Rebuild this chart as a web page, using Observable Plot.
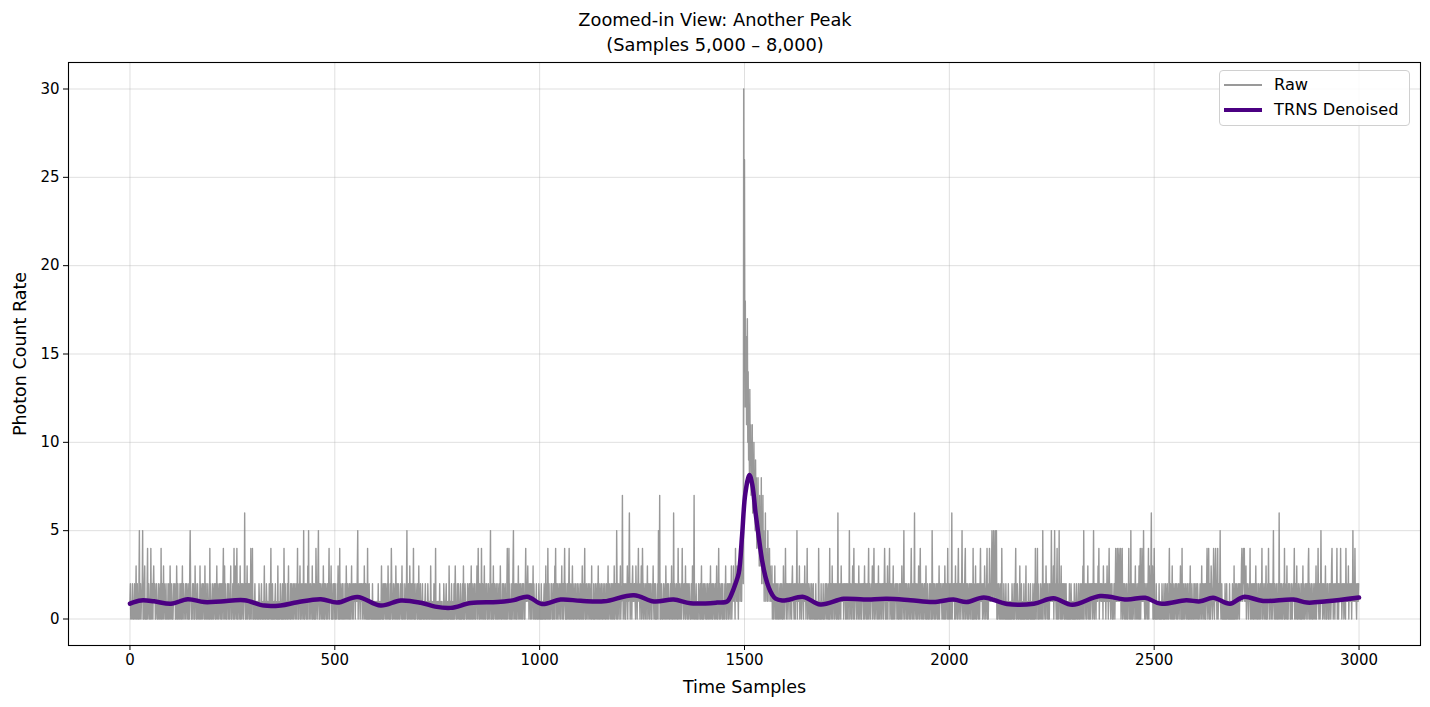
<!DOCTYPE html>
<html>
<head>
<meta charset="utf-8">
<script src="https://cdn.jsdelivr.net/npm/d3@7"></script>
<script src="https://cdn.jsdelivr.net/npm/@observablehq/plot@0.6"></script>
<style>
  html, body { margin: 0; padding: 0; background: #fff; }
  body { font-family: "DejaVu Sans", sans-serif; color: #000; }
  #wrap { position: relative; width: 1430px; height: 707px; overflow: hidden; }
  #title { height: 56px; box-sizing: border-box; padding-top: 7px; text-align: center;
           font-size: 17.8px; line-height: 25px; }
  #legend { position: absolute; left: 1219px; top: 70px; width: 191px; height: 56px;
            box-sizing: border-box; border: 1px solid #d0d0d0; border-radius: 4px;
            background: rgba(255,255,255,0.85); font-size: 16.2px; }
  .row { position: absolute; left: 0; height: 22px; width: 100%; }
  .row .h { position: absolute; left: 4px; width: 38px; top: 50%; }
  .row .t { position: absolute; left: 54px; top: 0; line-height: 22px; white-space: nowrap; }
</style>
</head>
<body>
<div id="wrap">
  <div id="title">Zoomed-in View: Another Peak<br>(Samples 5,000 – 8,000)</div>
  <div id="chart"></div>
  <div id="legend">
    <div class="row" style="top:3px"><div class="h" style="height:1.5px;margin-top:-0.75px;background:rgba(128,128,128,0.8)"></div><div class="t">Raw</div></div>
    <div class="row" style="top:28px"><div class="h" style="height:4.5px;margin-top:-2.25px;background:#4B0082"></div><div class="t">TRNS Denoised</div></div>
  </div>
</div>
<script>
// Raw photon counts, one character per sample (base-36: 0-9 then a=10 ... u=30), samples 0..2999
const rawRows = [
  "1201102101 0210130120 1025012011 2501023010 1024012101 0410210231 1200121010 2101204012 0130211020 1102012031",
  "0120101211 2010310201 1021020130 0211012021 1020103521 0102120103 1201021011 0302101202 1103012010 2101040210",
  "1021012102 0130210121 0210201240 1302101021 2010213010 1220401310 2401021103 0120121021 6102013012 1020140214",
  "0100120101 1010021000 1201010130 0102101010 2101401020 1010120101 0301010210 1020104102 0110201301 1020210120",
  "1210120214 0102130201 2101502012 1020315021 0211030120 2010421013 5102012101 2031020121 0120124021 1302010212",
  "0201102130 1040210120 2011021031 0210120201 1302102112 0212135021 2102212012 1031022010 4010201100 1020101010",
  "0101002010 1001301020 1210210120 3101020142 0102101203 1020120101 2101302011 0210125010 2103102012 0140201021",
  "1020130102 0101201010 1201010210 0100310100 1020104010 0101002010 1000102101 0120101003 1010020101 0201310102",
  "1021010201 0120301021 1010210120 2013010210 1201021301 4102012041 0210130102 1201021012 5010210301 2101201021",
  "0120310102 1021012010 2401140210 1020135021 0210201130 2102101202 1201024121 2312021202 1021302101 0120101021",
  "0100201010 1201030120 4102011021 2010210314 0120121012 1021301201 2410201021 0240102101 3010210120 1021012010",
  "2101302012 4010210121 0210120301 1020102101 2013010210 1201021012 0102101301 2101202102 1030121052 0121021301",
  "1272012102 0121302136 2012102312 1221031202 2412102130 1420121012 0213012102 1201021310 2102010120 5127010210",
  "1021012031 0120210102 1031020610 2101201041 0210120141 2012103012 1020121010 2103102701 0120101021 1020130102",
  "0121012010 2101201302 1020121012 0130102410 2101210201 1021301021 2012102130 1213212042 2131203142 31214342uc",
  "qeicgbdhae 9c8d9b7a8b 697a685968 4758463746 3825372514 2614231523 1423121302 1021301201 2010210120 1201031021",
  "4102120121 2012102312 1021021250 2121302120 1212021312 0214012101 2010210120 1010201010 0410100201 1020101210",
  "2101201040 1210310212 0121020160 2012103121 1201212012 0210215012 1021302401 2120121013 0121020121 2013012102",
  "1024012101 2130124012 1021201301 2012102120 1242012013 0212401210 2013021012 1201201021 0210312025 1021202101",
  "2101202410 1201260121 0210131024 1012021012 2013010210 1021201052 0121021012 1020130121 2101202103 1021204102",
  "1021016021 2120130121 0241021201 2510120134 0121021012 1021201040 2101302012 1021024121 2012103210 1240102142",
  "1213521352 1252150201 2101201041 0102101020 1010201001 0102101020 1240102101 0130102010 1020101301 0102011020",
  "1010201020 4102140201 1021012051 2012103120 1201021215 2121302512 1024012051 2013012012 1020120101 0102010210",
  "0101020101 2010120102 1021013051 2012102130 1201201212 0251021202 1213240212 2121203121 1202131202 4121021201",
  "0121024121 4213412340 1240121021 0120102140 2105102012 1021302101 2013024021 4121521021 0121024031 2136123010",
  "4101020101 1020101002 1010201021 0120102410 2101301021 0121021012 1021301040 2102101210 1201020130 1021010210",
  "2101202101 0121013012 1021020124 1024102013 2101241023 4120240121 2510120101 0102010201 1010200101 0201030102",
  "1021012102 1213421242 4121302121 0121402102 1020120130 1201021012 0214012101 2013010214 1021201201 2510210120",
  "1021061012 0210121040 2101301021 1201021012 1240120130 1021012010 2013021012 1021203410 2101201021 0120130121",
  "4102101521 2012102130 1021201021 2013412012 1021214012 0212141201 2120121041 2121302121 1202152121 4121021212"
];

// TRNS denoised curve, read at these sample positions
const denoisedX = [0,27,59,100,141,181,222,279,328,368,409,466,506,555,612,661,710,745,783,832,
  897,937,970,1006,1051,1100,1157,1230,1279,1327,1368,1433,1458,1470,1478,1486,1494,1502,1512,1519,
  1527,1535,1543,1551,1559,1567,1576,1592,1604,1644,1685,1742,1791,1848,1905,1961,2010,2042,2084,2141,
  2206,2254,2300,2368,2433,2478,2515,2578,2612,2644,2685,2718,2766,2840,2873,2921,3000];
const denoisedY = [0.87,1.05,1.0,0.86,1.12,0.96,0.99,1.06,0.76,0.77,0.95,1.12,0.93,1.25,0.76,1.05,0.92,0.7,0.63,0.9,
  0.96,1.07,1.26,0.85,1.1,1.03,1.0,1.35,0.99,1.1,0.89,0.93,1.0,1.5,2.0,2.6,4.7,7.1,8.15,7.6,
  6.0,4.6,3.3,2.4,1.8,1.4,1.15,1.05,1.07,1.25,0.82,1.14,1.1,1.14,1.06,0.96,1.1,0.96,1.22,0.85,
  0.86,1.17,0.8,1.3,1.1,1.2,0.87,1.06,1.0,1.2,0.86,1.25,1.02,1.1,0.93,1.0,1.22];

const xTicks = [0, 500, 1000, 1500, 2000, 2500, 3000];
const yTicks = [0, 5, 10, 15, 20, 25, 30];

const raw = rawRows.join("").replace(/\s/g, "").split("").map(c => parseInt(c, 36));
const rawData = raw.map((v, i) => ({t: i, v}));
const denData = denoisedX.map((t, i) => ({t, v: denoisedY[i]}));

const chart = Plot.plot({
  width: 1430,
  height: 651,
  marginTop: 6,
  marginBottom: 62,
  marginLeft: 68,
  marginRight: 10,
  style: {fontFamily: "DejaVu Sans", fontSize: "15px", color: "#000", background: "#fff", overflow: "visible"},
  x: {domain: [-150, 3150]},
  y: {domain: [-1.5, 31.5]},
  marks: [
    Plot.gridX(xTicks, {stroke: "#b0b0b0", strokeOpacity: 0.4, strokeWidth: 1}),
    Plot.gridY(yTicks, {stroke: "#b0b0b0", strokeOpacity: 0.4, strokeWidth: 1}),
    Plot.line(rawData, {x: "t", y: "v", stroke: "gray", strokeOpacity: 0.8, strokeWidth: 1.4}),
    Plot.line(denData, {x: "t", y: "v", stroke: "#4B0082", strokeWidth: 4.5, curve: "catmull-rom"}),
    Plot.frame({stroke: "#000", strokeWidth: 1.1}),
    Plot.axisX(xTicks, {tickSize: 5, tickPadding: 4, tickFormat: "d", label: null, stroke: "#000", fontSize: 15}),
    Plot.axisY(yTicks, {tickSize: 5, tickPadding: 4, tickFormat: "d", label: null, stroke: "#000", fontSize: 15}),
    Plot.text(["Time Samples"], {frameAnchor: "bottom", dy: 42, fontSize: 17.5, fill: "#000", textAnchor: "middle", lineAnchor: "middle"}),
    Plot.text(["Photon Count Rate"], {frameAnchor: "left", dx: -48, rotate: -90, fontSize: 17.5, fill: "#000", textAnchor: "middle", lineAnchor: "middle"})
  ]
});
document.getElementById("chart").appendChild(chart);
</script>
</body>
</html>
